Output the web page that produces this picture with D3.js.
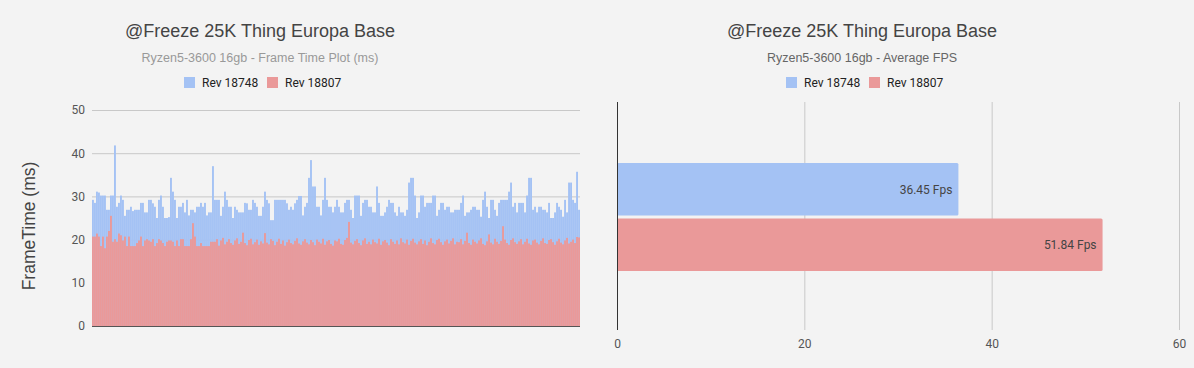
<!DOCTYPE html>
<html>
<head>
<meta charset="utf-8">
<script src="https://cdn.jsdelivr.net/npm/d3@7"></script>
<style>
  body { margin: 0; background: #f3f3f3; }
  svg { display: block; }
</style>
</head>
<body>
<div id="chart"></div>
<script>
const BLUE = "#a4c2f4";
const RED = "#ea9999";

const seriesNames = ["Rev 18748", "Rev 18807"];
const chartTitle = "@Freeze 25K Thing Europa Base";
const frameSubtitle = "Ryzen5-3600 16gb - Frame Time Plot (ms)";
const fpsSubtitle = "Ryzen5-3600 16gb - Average FPS";

// frame times (ms), one per sampled frame
const blueFrameTimes = [
    29.2, 28.5, 31.1, 30.9, 30.2, 30.2, 30.2, 26.9, 26.9, 30.2,
    30.2, 41.8, 27.6, 28.5, 30.2, 29.2, 25.5, 26.9, 26.9, 27.6,
    26.6, 26.9, 26.9, 26.9, 28.5, 28.5, 26.3, 26.3, 29.2, 29.2,
    28.4, 27.6, 25.0, 29.2, 30.2, 27.6, 25.0, 25.0, 25.2, 34.3,
    31.1, 29.2, 25.0, 27.6, 27.6, 28.5, 26.3, 29.2, 25.6, 26.9,
    26.9, 26.3, 27.6, 27.6, 28.5, 27.6, 28.5, 25.6, 26.3, 26.3,
    37.0, 29.2, 29.2, 29.2, 25.5, 27.6, 31.1, 29.2, 27.6, 27.6,
    25.0, 27.6, 26.9, 26.3, 26.3, 26.3, 28.5, 28.4, 26.9, 26.9,
    29.2, 28.5, 27.6, 25.5, 25.5, 27.6, 31.1, 29.2, 28.4, 24.5,
    24.5, 29.2, 29.2, 29.2, 29.2, 29.2, 29.2, 28.4, 26.9, 27.6,
    26.9, 28.4, 29.2, 30.1, 30.1, 25.6, 27.6, 28.5, 34.3, 38.4,
    32.3, 32.3, 27.6, 27.6, 25.6, 29.2, 34.3, 29.2, 27.6, 27.6,
    26.3,
    27.6, 29.2, 27.6, 26.3, 26.3, 28.5, 29.2, 29.2, 26.9, 25.0,
    30.2, 30.2, 30.2, 25.5, 28.5, 29.2, 29.2, 27.6, 27.6, 26.3,
    26.3, 32.3, 28.5, 25.5, 25.5, 26.3, 27.6, 29.2, 28.5, 28.5,
    26.3, 25.5, 27.6, 26.3, 26.3, 25.5, 26.9, 33.2, 34.3, 34.3,
    30.2, 25.0, 26.3, 30.2, 30.2, 27.6, 28.5, 28.5, 28.5, 30.2,
    30.2, 25.5, 26.9, 28.5, 28.5, 26.9, 27.6, 27.6, 26.3, 26.3,
    26.9, 26.9,
    26.9, 28.5, 30.2, 25.5, 26.3, 26.3, 26.9, 27.6, 27.6, 26.9,
    26.9, 25.3, 29.2, 31.1, 27.6, 25.0, 29.2, 29.2, 26.9, 25.5,
    28.5, 29.2, 29.2, 29.2, 29.2, 31.1, 33.2, 27.6, 28.5, 26.3,
    28.5, 28.5, 28.5, 26.3, 30.2, 34.3, 34.3, 26.9, 27.6, 26.3,
    27.6, 27.6, 26.9, 26.9, 26.3, 28.5, 25.0, 25.0, 26.3, 28.5,
    27.6, 26.9, 25.3, 29.2, 26.3, 33.2, 33.2, 29.2, 28.5, 35.7,
    26.9
];

const redFrameTimes = [
    20.7, 20.7, 21.4, 20.7, 18.5, 20.7, 18.0, 20.7, 22.0, 25.5,
    19.5, 20.1, 19.5, 21.4, 21.0, 19.8, 20.7, 18.5, 20.7, 18.5,
    18.5, 18.5, 19.2, 19.8, 20.7, 18.5, 19.8, 20.1, 19.8, 19.5,
    20.1, 18.5, 19.2, 20.1, 19.8, 19.2, 18.5, 19.5, 19.8, 19.8,
    19.5, 18.5, 19.8, 18.5, 20.1, 20.1, 18.5, 18.5, 18.5, 20.1,
    23.8, 20.7, 18.5, 18.5, 19.2, 18.5, 18.5, 18.5, 18.5, 19.5,
    19.5,
    19.5, 20.1, 18.6, 19.8, 20.4, 18.9, 19.5, 20.1, 19.2, 18.8,
    19.8, 20.3, 19.0, 19.5, 21.6, 19.2, 18.7, 19.9, 20.2, 18.9,
    19.4, 20.0, 18.8, 19.6, 19.1, 21.5, 19.3, 18.9, 20.1, 19.7,
    18.7, 19.5, 20.2, 19.0, 19.8, 18.6, 19.4, 20.0, 19.2, 18.9,
    19.7, 20.3, 19.1, 18.8, 19.6, 20.1, 19.3, 18.9, 19.9, 19.4,
    18.7, 20.0, 19.5, 19.1, 20.2, 18.8, 19.6, 19.9, 19.0, 18.6, 19.8,
    19.6, 20.2, 19.0, 18.8, 19.9, 20.4, 24.1, 19.3, 18.9, 19.7,
    20.1, 19.2, 18.7, 19.8, 20.3, 19.0, 19.5, 18.9, 20.0, 19.4,
    19.1, 20.2, 18.8, 19.6, 19.9, 19.3, 18.7, 20.1, 19.5, 19.0,
    19.8, 18.9, 20.3, 19.4, 19.1, 20.0, 18.8, 19.7, 20.2, 19.3,
    18.9, 19.6, 20.1, 19.0, 19.8, 18.7, 19.5, 20.3, 19.2, 18.9,
    19.9, 20.2, 19.4, 18.8, 19.6, 20.0, 19.1, 19.7, 20.3, 18.9, 19.5,
    19.4, 20.1, 18.9, 19.7, 21.6, 19.2, 18.8, 20.0, 19.5, 19.1,
    19.8, 20.3, 19.0, 18.7, 19.6, 21.2, 19.3, 18.9, 20.2, 19.5,
    19.0, 19.7, 23.1, 20.0, 19.2, 18.8, 19.9, 20.3, 19.4, 19.0,
    19.6, 20.1, 18.9, 19.5, 20.2, 19.1, 18.8, 19.8, 20.0, 19.3,
    18.9, 19.7, 20.3, 19.2, 19.0, 19.9, 20.1, 19.4, 18.8, 19.6,
    20.2, 19.3, 18.9, 19.8, 20.4, 19.1, 19.5, 20.0, 19.2, 20.6, 20.5
];

const frameTicks = [0, 10, 20, 30, 40, 50];

const avgFps = [36.45, 51.84];
const fpsTicks = [0, 20, 40, 60];

const W = 1194, H = 368;

const svg = d3.select("#chart")
    .append("svg")
    .attr("width", W)
    .attr("height", H)
    .style("background", "#f3f3f3");

function drawHeader(cx, subtitle, subColor) {
    svg.append("text")
        .attr("x", cx)
        .attr("y", 37)
        .attr("text-anchor", "middle")
        .attr("font-family", "Liberation Sans, Arial")
        .attr("font-size", 18)
        .attr("fill", "#444")
        .text(chartTitle);

    svg.append("text")
        .attr("x", cx)
        .attr("y", 62)
        .attr("text-anchor", "middle")
        .attr("font-family", "Liberation Sans, Arial")
        .attr("font-size", 12.5)
        .attr("fill", subColor)
        .text(subtitle);

    const legend = svg.append("g")
        .attr("transform", "translate(" + (cx - 76) + ",77)");

    seriesNames.forEach((name, i) => {
        const g = legend.append("g")
            .attr("transform", "translate(" + (i * 83) + ",0)");
        g.append("rect")
            .attr("width", 11)
            .attr("height", 11)
            .attr("fill", i == 0 ? BLUE : RED);
        g.append("text")
            .attr("x", 18)
            .attr("y", 10)
            .attr("font-family", "Roboto")
            .attr("font-size", 12)
            .attr("fill", "#222")
            .text(name);
    });
}

// ---- left: frame time plot ----
const fMargin = { left: 92, right: 580, top: 110, bottom: 326 };

const frames = blueFrameTimes.map((_, i) => i + 1);

const xf = d3.scaleBand()
    .domain(frames)
    .range([fMargin.left, fMargin.right])
    .paddingInner(0.05);

const yf = d3.scaleLinear()
    .domain([0, 50])
    .range([fMargin.bottom, fMargin.top]);

drawHeader(260, frameSubtitle, "#999");

const yfAxis = d3.axisLeft(yf)
    .tickValues(frameTicks)
    .tickSize(-(fMargin.right - fMargin.left))
    .tickPadding(7);

const gy = svg.append("g")
    .attr("transform", "translate(" + fMargin.left + ",0)")
    .call(yfAxis);
gy.select(".domain").remove();
gy.selectAll("line").attr("stroke", "#c8c8c8");
gy.selectAll("text")
    .attr("font-family", "Roboto")
    .attr("font-size", 12)
    .attr("fill", "#555");

svg.append("g")
    .selectAll("rect")
    .data(blueFrameTimes)
    .join("rect")
    .attr("x", (d, i) => xf(frames[i]))
    .attr("width", xf.bandwidth())
    .attr("y", d => yf(d))
    .attr("height", d => yf(0) - yf(d))
    .attr("fill", BLUE);

svg.append("g")
    .selectAll("rect")
    .data(redFrameTimes)
    .join("rect")
    .attr("x", (d, i) => xf(frames[i]))
    .attr("width", xf.bandwidth())
    .attr("y", d => yf(d))
    .attr("height", d => yf(0) - yf(d))
    .attr("fill", RED);

svg.append("line")
    .attr("x1", fMargin.left)
    .attr("x2", fMargin.right)
    .attr("y1", yf(0) + 0.5)
    .attr("y2", yf(0) + 0.5)
    .attr("stroke", "#555");

svg.append("text")
    .attr("transform", "translate(35," + 226 + ") rotate(-90)")
    .attr("text-anchor", "middle")
    .attr("font-family", "Liberation Sans, Arial")
    .attr("font-size", 17.5)
    .attr("fill", "#444")
    .text("FrameTime (ms)");

// ---- right: average fps ----
drawHeader(862, fpsSubtitle, "#666");

const xr = d3.scaleLinear()
    .domain([0, 60])
    .range([617, 1179]);

const yr = d3.scaleBand()
    .domain(seriesNames)
    .range([163, 271])
    .paddingInner(0.05);

const xrAxis = d3.axisBottom(xr)
    .tickValues(fpsTicks)
    .tickSize(-(330 - 102))
    .tickPadding(9);

const gx = svg.append("g")
    .attr("transform", "translate(0,330)")
    .call(xrAxis);
gx.select(".domain").remove();
gx.selectAll("line").attr("stroke", d => d == 0 ? "#333" : "#c8c8c8");
gx.selectAll("text")
    .attr("font-family", "Roboto")
    .attr("font-size", 12)
    .attr("fill", "#555");

svg.append("g")
    .selectAll("rect")
    .data(avgFps)
    .join("rect")
    .attr("x", xr(0))
    .attr("y", (d, i) => yr(seriesNames[i]))
    .attr("width", d => xr(d) - xr(0))
    .attr("height", yr.bandwidth())
    .attr("rx", 1.5)
    .attr("fill", (d, i) => i == 0 ? BLUE : RED);

svg.append("line")
    .attr("x1", xr(0) + 0.5)
    .attr("x2", xr(0) + 0.5)
    .attr("y1", 102)
    .attr("y2", 330)
    .attr("stroke", "#333");

svg.append("g")
    .selectAll("text")
    .data(avgFps)
    .join("text")
    .attr("x", d => xr(d) - 6)
    .attr("y", (d, i) => yr(seriesNames[i]) + yr.bandwidth() / 2)
    .attr("dy", "0.35em")
    .attr("text-anchor", "end")
    .attr("font-family", "Roboto")
    .attr("font-size", 12)
    .attr("fill", "#444")
    .text(d => d.toFixed(2) + " Fps");
</script>
</body>
</html>
